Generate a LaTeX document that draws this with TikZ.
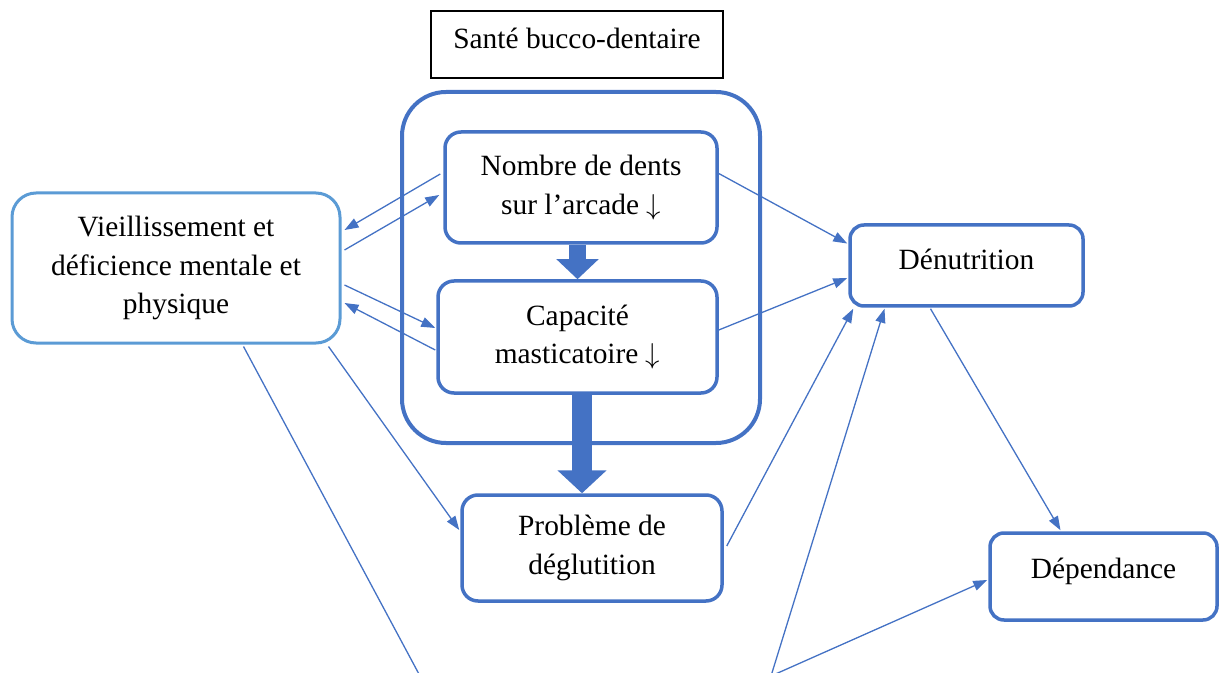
\documentclass[tikz,border=0pt]{standalone}
\usepackage{fontspec}
\setmainfont{Liberation Serif}
\usetikzlibrary{arrows.meta,calc}

\definecolor{bleu}{HTML}{4472C4}
\definecolor{bleuclair}{HTML}{5B9BD5}

\tikzset{
  boite/.style={draw=bleu, line width=1.75pt, rounded corners=8pt, fill=white},
  fleche/.style={draw=bleu, line width=0.65pt, -{Triangle[length=7pt,width=5pt]}},
  grossefleche/.style={draw=bleu, line width=#1},
}

\begin{document}
\begin{tikzpicture}[x=0.5pt, y=-0.5pt, font=\fontsize{14.7}{19.3}\selectfont]
\useasboundingbox (0,0) rectangle (1219,673);

% cadre du titre et du groupe
\node[draw, line width=0.75pt, minimum width=146pt, minimum height=33.5pt, text depth=6.5pt] (sante) at (577,44.5) {Santé bucco-dentaire};
\node[draw=bleu, line width=2pt, rounded corners=22pt, minimum width=179pt, minimum height=175.5pt] (groupe) at (581,267.5) {};

% boites
\node[boite, align=center, minimum width=136pt, minimum height=55.5pt] (nombre) at (581,187.5) {Nombre de dents\\sur l’arcade $\downarrow$};
\node[boite, align=center, minimum width=139.5pt, minimum height=56pt] (capacite) at (577.5,337) {Capacité\\masticatoire $\downarrow$};
\node[boite, draw=bleuclair, line width=1.5pt, rounded corners=12pt, align=center, minimum width=164pt, minimum height=75pt] (vieil) at (176,268) {Vieillissement et\\déficience mentale et\\physique};
\node[boite, rounded corners=7pt, minimum width=116.5pt, minimum height=40.5pt, text depth=6pt] (denut) at (966.5,265.5) {Dénutrition};
\node[boite, align=center, minimum width=130pt, minimum height=53pt] (probleme) at (592,548) {Problème de\\déglutition};
\node[boite, rounded corners=7pt, minimum width=113.5pt, minimum height=43.5pt, text depth=8pt] (dependance) at (1103.5,576.5) {Dépendance};

\coordinate (bas1) at (420,676);
\coordinate (bas2) at (771,676);

% grosses fleches
\draw[grossefleche=8.5pt, -{Triangle[length=10pt,width=20.5pt]}] (nombre.south -| capacite.north) -- (capacite.north);
\draw[grossefleche=10pt, -{Triangle[length=11.5pt,width=24pt]}] ($(capacite.south)+(4.5,0)$) -- ($(probleme.north)+(-10,0)$);

% liens
\draw[fleche] ($(nombre.west)+(-3,-13.5)$) -- ($(vieil.east)+(3,-38)$);
\draw[fleche] ($(vieil.east)+(3,-18)$) -- ($(nombre.west)+(-4,7.5)$);
\draw[fleche] ($(vieil.east)+(3,17)$) -- ($(capacite.west)+(-1,-9)$);
\draw[fleche] ($(capacite.west)+(-1,13)$) -- ($(vieil.east)+(3,35)$);
\draw[fleche] ($(nombre.east)+(0,-14)$) -- ($(denut.west)+(-1,-22)$);
\draw[fleche] ($(capacite.east)+(0,-7)$) -- ($(denut.west)+(-1,12.5)$);
\draw[fleche] ($(probleme.east)+(3,-2)$) -- ($(denut.south west)+(5,1)$);
\draw[fleche] (bas2) -- ($(denut.south)+(-82,1)$);
\draw[fleche] (bas2) -- ($(dependance.west)+(-1,3.5)$);
\draw[fleche] ($(denut.south)+(-36,1)$) -- ($(dependance.north)+(-43,-1)$);
\draw[fleche] ($(vieil.south east)+(-13,2)$) -- ($(probleme.west)+(-1,-18)$);
\draw[draw=bleu, line width=0.65pt] ($(vieil.south west)+(233,2)$) -- (bas1);

\end{tikzpicture}
\end{document}
